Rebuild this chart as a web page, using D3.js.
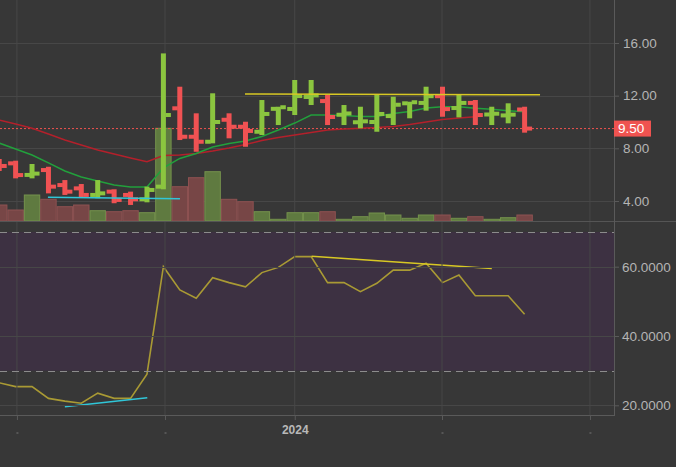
<!DOCTYPE html>
<html><head><meta charset="utf-8">
<script src="https://cdn.jsdelivr.net/npm/d3@7"></script>
<style>html,body{margin:0;padding:0;background:#373737;overflow:hidden}</style>
</head><body><svg id="c" width="676" height="467"></svg>
<script>
// ---- data ----
const openP  = [7.00,6.86,5.98,6.35,5.21,4.96,4.46,4.71,4.46,4.13,5.09,11.04,8.88,8.50,10.17,9.64,9.26,11.00,10.99,11.90,11.59,10.55,9.98,10.00,10.45,11.42,11.45,11.96,11.06,11.45,10.57,10.50,10.95];
const highP  = [7.19,7.06,6.81,6.60,5.59,5.29,5.59,4.89,4.71,5.09,15.21,12.68,10.66,12.18,10.66,10.02,11.67,11.16,13.19,13.19,12.05,11.29,11.16,12.05,11.92,11.54,12.68,12.68,12.05,11.67,11.16,11.42,11.16];
const lowP   = [6.28,5.72,5.72,4.58,4.46,4.28,4.21,3.83,3.70,3.90,4.89,8.63,7.74,8.38,8.76,8.12,9.01,9.77,10.53,11.29,9.77,9.77,9.52,9.26,9.77,10.28,10.86,10.40,10.35,9.77,9.77,9.90,9.19];
const closeP = [6.66,5.97,6.08,5.09,4.71,4.46,4.58,4.08,4.13,4.84,10.53,8.88,8.50,10.00,9.64,9.32,10.61,11.12,11.97,12.02,10.38,10.65,10.05,10.61,11.31,11.50,11.96,10.98,11.45,10.53,10.63,10.56,9.50];
const volume = [160,110,260,217,143,160,103,93,103,83,927,343,433,493,217,193,93,17,83,83,93,17,43,80,60,27,60,60,27,43,17,33,60];
const maFast = [8.40,7.95,7.49,6.89,6.28,5.82,5.52,5.21,5.06,5.06,6.51,7.23,7.61,8.10,8.37,8.56,8.90,9.39,9.92,10.53,10.53,10.49,10.42,10.42,10.64,10.80,11.06,11.16,11.16,11.04,10.96,10.86,10.78];
const maSlow = [10.15,9.85,9.52,9.09,8.63,8.25,7.87,7.57,7.27,6.98,7.45,7.49,7.61,7.80,8.02,8.29,8.59,8.82,9.01,9.20,9.39,9.47,9.52,9.58,9.66,9.81,10.00,10.19,10.30,10.40];
const rsi    = [26.5,25.4,25.4,22.0,21.2,20.6,23.5,22.0,22.0,29.0,60.0,53.3,50.9,56.8,55.4,54.2,58.3,59.8,62.9,62.9,55.4,55.4,52.8,55.2,59.0,59.0,61.0,55.4,57.6,51.6,51.6,51.6,46.3];
const priceTicks = [4,8,12,16];
const rsiTicks = [20,40,60];
const rsiBands = [70,30];
const timeTickIdx = [1.08,10.1,18,26.97,35.98];
const timeTickLabels = ["","","2024","",""];
const lastPrice = 9.50;
const priceTrendYellow = [[14.97,12.12],[32.94,12.07]];
const priceTrendCyan = [[2.97,4.28],[11.01,4.17]];
const rsiTrendYellow = [[19.03,63.0],[30.0,59.5]];
const rsiTrendCyan = [[4.0,19.6],[9.02,22.2]];

// ---- layout ----
const W=676,H=467, plotR=614;
const topPane=[0,221], rsiPane=[224,415];
const svg=d3.select("#c");
svg.append("rect").attr("width",W).attr("height",H).attr("fill","#373737");

const x=d3.scaleLinear().domain([0,32]).range([-0.8,524.6]);
const y=d3.scaleLinear().domain([4,16]).range([201,43]);
const yr=d3.scaleLinear().domain([20,60]).range([405.3,266.7]);
const vy=d3.scaleLinear().domain([0,927]).range([221,128.3]);
const step=x(1)-x(0);

const defs=svg.append("defs");
defs.append("clipPath").attr("id","cp1").append("rect").attr("x",0).attr("y",topPane[0]).attr("width",plotR).attr("height",topPane[1]-topPane[0]);
defs.append("clipPath").attr("id","cp2").append("rect").attr("x",0).attr("y",rsiPane[0]).attr("width",plotR).attr("height",rsiPane[1]-rsiPane[0]);

const gridC="#474747";
// RSI band fill
const g2=svg.append("g").attr("clip-path","url(#cp2)");
g2.append("rect").attr("x",0).attr("width",plotR).attr("y",yr(rsiBands[0])).attr("height",yr(rsiBands[1])-yr(rsiBands[0])).attr("fill","#3d3142");

// grids
const gridG=svg.append("g");
gridG.selectAll(".vg").data(timeTickIdx).join("line")
  .attr("x1",d=>x(d)).attr("x2",d=>x(d)).attr("y1",0).attr("y2",415).attr("stroke",gridC).attr("stroke-width",1);
gridG.selectAll(".hg").data(priceTicks).join("line")
  .attr("x1",0).attr("x2",plotR).attr("y1",d=>Math.round(y(d))+0.5).attr("y2",d=>Math.round(y(d))+0.5).attr("stroke",gridC);
gridG.selectAll(".hr").data(rsiTicks).join("line")
  .attr("x1",0).attr("x2",plotR).attr("y1",d=>Math.round(yr(d))+0.5).attr("y2",d=>Math.round(yr(d))+0.5).attr("stroke",gridC);
gridG.selectAll(".band").data(rsiBands).join("line")
  .attr("x1",0).attr("x2",plotR).attr("y1",d=>Math.round(yr(d))+0.5).attr("y2",d=>Math.round(yr(d))+0.5)
  .attr("stroke","#8c8c8c").attr("stroke-dasharray","7,5");

// separators / axis lines
svg.append("line").attr("x1",0).attr("x2",W).attr("y1",221.5).attr("y2",221.5).attr("stroke","#555");
svg.append("line").attr("x1",0).attr("x2",plotR).attr("y1",415.5).attr("y2",415.5).attr("stroke","#5a5a5a");
svg.append("line").attr("x1",plotR+0.5).attr("x2",plotR+0.5).attr("y1",0).attr("y2",416).attr("stroke","#5a5a5a");

// ---- top pane ----
const g1=svg.append("g").attr("clip-path","url(#cp1)");
// volume
g1.selectAll(".vol").data(volume).join("rect")
  .attr("x",(d,i)=>x(i)-step/2+0.5).attr("width",step-1)
  .attr("y",d=>vy(d)).attr("height",d=>221-vy(d))
  .attr("fill",(d,i)=>closeP[i]>=openP[i]?"#5f7a40":"#774646")
  .attr("stroke",(d,i)=>closeP[i]>=openP[i]?"#74924c":"#8e5252").attr("stroke-width",1);
// last price line
g1.append("line").attr("x1",0).attr("x2",plotR).attr("y1",y(lastPrice)).attr("y2",y(lastPrice))
  .attr("stroke","#ef5350").attr("stroke-dasharray","2,2").attr("stroke-width",1);
// MAs
const lineP=d3.line().x((d,i)=>x(i)).y(d=>y(d));
g1.append("path").attr("d",lineP(maSlow)).attr("fill","none").attr("stroke","#b3202b").attr("stroke-width",1.5);
g1.append("path").attr("d",lineP(maFast)).attr("fill","none").attr("stroke","#22a03c").attr("stroke-width",1.5);
// candles
const cg=g1.selectAll(".cdl").data(openP).join("g")
  .attr("fill",(d,i)=>closeP[i]>=openP[i]?"#8bc53f":"#f05253");
cg.append("rect").attr("x",(d,i)=>x(i)-2.5).attr("width",5)
  .attr("y",(d,i)=>y(highP[i])).attr("height",(d,i)=>y(lowP[i])-y(highP[i]));
cg.append("rect").attr("x",(d,i)=>x(i)-7.5).attr("width",5.5)
  .attr("y",(d,i)=>y(openP[i])-2).attr("height",4);
cg.append("rect").attr("x",(d,i)=>x(i)+2).attr("width",5.5)
  .attr("y",(d,i)=>y(closeP[i])-2).attr("height",4);
// trendlines
const tl=d3.line().x(d=>x(d[0])).y(d=>y(d[1]));
g1.append("path").attr("d",tl(priceTrendYellow)).attr("stroke","#d8c824").attr("stroke-width",1.5).attr("fill","none");
g1.append("path").attr("d",tl(priceTrendCyan)).attr("stroke","#30c6d8").attr("stroke-width",1.5).attr("fill","none");

// ---- RSI pane ----
const lineR=d3.line().x((d,i)=>x(i)).y(d=>yr(d));
g2.append("path").attr("d",lineR(rsi)).attr("fill","none").attr("stroke","#a99a34").attr("stroke-width",1.6);
const tr=d3.line().x(d=>x(d[0])).y(d=>yr(d[1]));
g2.append("path").attr("d",tr(rsiTrendYellow)).attr("stroke","#d8c824").attr("stroke-width",1.5).attr("fill","none");
g2.append("path").attr("d",tr(rsiTrendCyan)).attr("stroke","#30c6d8").attr("stroke-width",1.5).attr("fill","none");

// ---- axes ----
const font="'Liberation Sans', Arial, sans-serif";
const pa=svg.append("g").attr("transform",`translate(${plotR},0)`)
  .call(d3.axisRight(y).tickValues(priceTicks).tickFormat(d3.format(".2f")).tickSize(5).tickPadding(4));
const ra=svg.append("g").attr("transform",`translate(${plotR},0)`)
  .call(d3.axisRight(yr).tickValues(rsiTicks).tickFormat(d3.format(".4f")).tickSize(5).tickPadding(3));
[pa,ra].forEach(a=>{
  a.select(".domain").remove();
  a.selectAll("line").attr("stroke","#5a5a5a");
  a.selectAll("text").attr("fill","#b4b4b4").attr("font-size",13.5).attr("font-family",font);
});
// last price label
svg.append("rect").attr("x",plotR).attr("y",y(lastPrice)-8).attr("width",37).attr("height",16).attr("fill","#ef5350");
svg.append("text").attr("x",plotR+4).attr("y",y(lastPrice)).attr("dy","0.35em").text(d3.format(".2f")(lastPrice))
  .attr("fill","#fff").attr("font-size",13.5).attr("font-family",font);

// time axis
const ta=svg.append("g").attr("transform","translate(0,415)")
  .call(d3.axisBottom(x).tickValues(timeTickIdx).tickFormat((d,i)=>timeTickLabels[i]).tickSize(5).tickPadding(5));
ta.select(".domain").remove();
ta.selectAll("line").attr("stroke","#5a5a5a");
ta.selectAll("text").attr("fill","#b8b8b8").attr("font-size",12).attr("font-weight","bold").attr("font-family",font);
ta.selectAll(".tick").filter((d,i)=>!timeTickLabels[i]).append("line")
  .attr("x1",-1).attr("x2",1).attr("y1",18).attr("y2",18).attr("stroke","#777");
</script></body></html>
